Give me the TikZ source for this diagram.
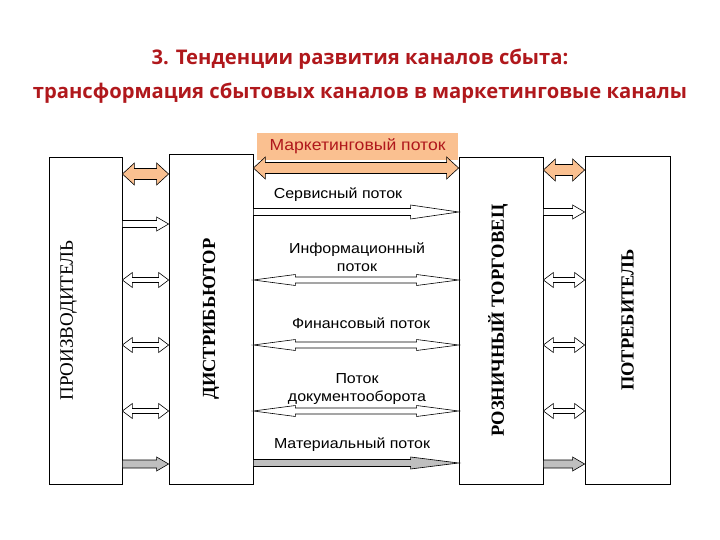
\documentclass[tikz,border=0pt]{standalone}
\usepackage{fontspec}
\setmainfont{Liberation Serif}
\setsansfont{Liberation Sans}
\newfontfamily\ttlfont{Open Sans}
\newfontfamily\flfont[FakeStretch=1.1]{Liberation Sans}
\usepackage{tikz}
\usetikzlibrary{calc,positioning}
\definecolor{ttlred}{HTML}{B0181C}
\definecolor{mkfill}{HTML}{FAC090}
\definecolor{flowgray}{HTML}{BFBFBF}
\newcommand{\twoway}[7]{%
  \path (0,#4) coordinate (yy) (#2.east |- yy) coordinate (l) (#3.west |- yy) coordinate (r);
  \draw[#1] (l) -- ++(#5,-#6) -- ++(0,#6-#7) -- ($(r)+(-#5,-#7)$) -- ++(0,#7-#6) -- (r)
    -- ++(-#5,#6) -- ++(0,#7-#6) -- ($(l)+(#5,#7)$) -- ++(0,#6-#7) -- cycle;}
\newcommand{\oneway}[7]{%
  \path (0,#4) coordinate (yy) (#2.east |- yy) coordinate (l) (#3.west |- yy) coordinate (r);
  \draw[#1] ($(l)+(0,-#7)$) -- ($(r)+(-#5,-#7)$) -- ++(0,#7-#6) -- (r)
    -- ++(-#5,#6) -- ++(0,#7-#6) -- ($(l)+(0,#7)$) -- cycle;}

\begin{document}
\begin{tikzpicture}[x=1pt, y=-1pt,
  bx/.style={draw, line width=0.8pt, fill=white, inner sep=0pt},
  lb/.style={rotate=90, font=\bfseries\fontsize{18.5}{20}\selectfont},
  fl/.style={font=\flfont\fontsize{14.5}{18}\selectfont, align=center},
  wa/.style={draw, line width=0.6pt, fill=white, line join=miter},
  oa/.style={wa, fill=mkfill},
  ga/.style={wa, fill=flowgray}]
  \useasboundingbox (0,0) rectangle (720,540);
  \node[font=\ttlfont\bfseries\fontsize{20.2}{34}\selectfont, text=ttlred, align=center]
    (ttl) at (360,76) {3. Тенденции развития каналов сбыта:\\трансформация сбытовых каналов в маркетинговые каналы};
  \node[bx, minimum width=73, minimum height=327] (prod) at (85.5,320.5) {};
  \node[bx, minimum width=84, minimum height=330] (dist) at (211,319) {};
  \node[bx, minimum width=84, minimum height=327] (ret) at (501,320.5) {};
  \node[bx, minimum width=85, minimum height=328] (cons) at (627.5,320) {};
  \node[lb, font=\fontsize{19}{20}\selectfont] at ($(prod.center)+(-17,0)$) {ПРОИЗВОДИТЕЛЬ};
  \node[lb] at (dist.center) {ДИСТРИБЬЮТОР};
  \node[lb] at ($(ret.center)+(-3,0)$) {РОЗНИЧНЫЙ ТОРГОВЕЦ};
  \node[lb] at (cons.center) {ПОТРЕБИТЕЛЬ};
  \node[fill=mkfill, text=ttlred, font=\flfont\fontsize{16}{18}\selectfont,
    minimum width=201, minimum height=27, inner sep=0pt] (mk) at (357.5,146.5) {Маркетинговый поток};
  \twoway{oa}{prod}{dist}{174}{12}{11}{5.5}
  \twoway{oa}{dist}{ret}{168}{12}{11}{5.5}
  \twoway{oa}{ret}{cons}{170}{12}{11}{5.5}
  \oneway{wa}{prod}{dist}{224}{12}{7}{3.5}
  \oneway{wa}{dist}{ret}{212}{48}{7}{3.5}
  \oneway{wa}{ret}{cons}{212}{12}{7}{3.5}
  \foreach \y in {280,345,411} {
    \twoway{wa}{prod}{dist}{\y}{10}{7.5}{2.5}
    \twoway{wa}{dist}{ret}{\y}{42}{5.5}{3}
    \twoway{wa}{ret}{cons}{\y}{10}{7.5}{2.5}}
  \oneway{ga}{prod}{dist}{464}{12}{7}{4}
  \oneway{ga}{dist}{ret}{463}{48}{6}{3.5}
  \oneway{ga}{ret}{cons}{464}{12}{7}{4}
  \node[fl] at (338,195) {Сервисный поток};
  \node[fl] at (357,257) {Информационный\\поток};
  \node[fl] at (361,323) {Финансовый поток};
  \node[fl] at (357,389) {Поток\\документооборота};
  \node[fl] at (352,445) {Материальный поток};
\end{tikzpicture}
\end{document}
